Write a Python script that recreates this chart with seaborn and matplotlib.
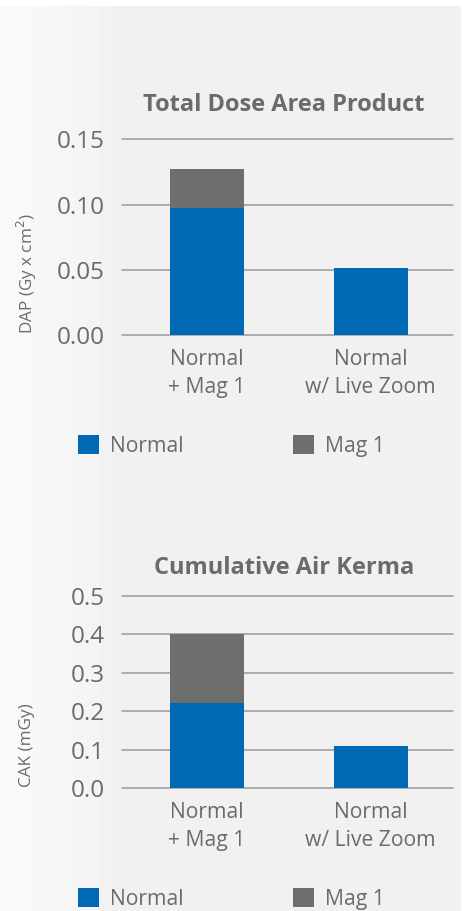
import numpy as np
import pandas as pd
import matplotlib
matplotlib.use("Agg")
import matplotlib.pyplot as plt
from matplotlib.patches import Patch
import seaborn as sns

# Dose values per acquisition mode
categories = ["Normal\n+ Mag 1", "Normal\nw/ Live Zoom"]
dap_normal = [0.097, 0.051]
dap_mag1 = [0.030, 0.0]
cak_normal = [0.222, 0.111]
cak_mag1 = [0.178, 0.0]

dap_ticks = [0.00, 0.05, 0.10, 0.15]
dap_ticklabels = ["0.00", "0.05", "0.10", "0.15"]
cak_ticks = [0.0, 0.1, 0.2, 0.3, 0.4, 0.5]
cak_ticklabels = ["0.0", "0.1", "0.2", "0.3", "0.4", "0.5"]

BLUE = "#0069b4"
GREY = "#6e6e6e"
TEXT = "#6b6b6b"
GRID = "#9a9a9a"

sns.set_theme(style="white")
plt.rcParams["font.family"] = ["Open Sans", "DejaVu Sans"]

fig = plt.figure(figsize=(4.62, 9.11), dpi=100)

# soft background: light grey fading to near-white on the left
bg = fig.add_axes([0, 0, 1, 1], zorder=-10)
W, H = 462, 911
x = np.arange(W)
row = 0.949 + (0.982 - 0.949) * np.clip(1 - x / 115.0, 0, 1)
img = np.tile(row, (H, 1))
img[:6, :] = 1.0
img[:, -1:] = 1.0
bg.imshow(img, cmap="gray", vmin=0, vmax=1, aspect="auto", interpolation="bilinear")
bg.set_axis_off()


def stacked_panel(rect, normal, mag1, ticks, ticklabels, ylabel, title,
                  title_y, ylabel_y, legend_y):
    ax = fig.add_axes(rect)
    ax.patch.set_alpha(0)
    df = pd.DataFrame({
        "cat": categories,
        "total": np.array(normal) + np.array(mag1),
        "normal": normal,
    })
    sns.barplot(data=df, x="cat", y="total", color=GREY, width=0.45,
                saturation=1, linewidth=0, ax=ax, zorder=3)
    sns.barplot(data=df, x="cat", y="normal", color=BLUE, width=0.45,
                saturation=1, linewidth=0, ax=ax, zorder=4)
    ax.set_xlim(-0.52, 1.5)
    ax.set_ylim(ticks[0], ticks[-1])
    ax.set_yticks(ticks)
    ax.set_yticklabels(ticklabels)
    for t in ticks:
        ax.axhline(t, color=GRID, lw=1.1, zorder=1, clip_on=False)
    for s in ax.spines.values():
        s.set_visible(False)
    ax.tick_params(axis="y", length=0, pad=12, labelsize=17.5, labelcolor=TEXT)
    ax.tick_params(axis="x", length=0, pad=10, labelsize=15.2, labelcolor=TEXT)
    for lab in ax.get_xticklabels():
        lab.set_linespacing(1.45)
    ax.set_xlabel("")
    ax.set_ylabel("")
    fig.text(0.059, ylabel_y, ylabel, rotation=90, ha="center", va="center",
             fontsize=12.3, color=TEXT)
    fig.text(0.615, title_y, title, ha="center", va="center", fontsize=17,
             fontweight="bold", color=TEXT)
    handles = [Patch(facecolor=BLUE, edgecolor="none", label="Normal"),
               Patch(facecolor=GREY, edgecolor="none", label="Mag 1")]
    fig.legend(handles=handles, loc="center left",
               bbox_to_anchor=(0.169, legend_y), ncol=2, frameon=False,
               fontsize=15.2, labelcolor=TEXT, handlelength=1.0,
               handleheight=1.0, handletextpad=0.5, columnspacing=5.2,
               borderaxespad=0, borderpad=0)
    return ax


stacked_panel([0.2634, 0.6323, 0.7165, 0.2148], dap_normal, dap_mag1,
              dap_ticks, dap_ticklabels, "DAP (Gy x cm$^2$)",
              "Total Dose Area Product", 1 - 105 / 911, 1 - 274 / 911,
              1 - 446 / 911)

stacked_panel([0.2634, 0.1347, 0.7165, 0.2114], cak_normal, cak_mag1,
              cak_ticks, cak_ticklabels, "CAK (mGy)",
              "Cumulative Air Kerma", 1 - 568 / 911, 1 - 745 / 911,
              1 - 899 / 911)

fig.savefig("out.png", dpi=100)
